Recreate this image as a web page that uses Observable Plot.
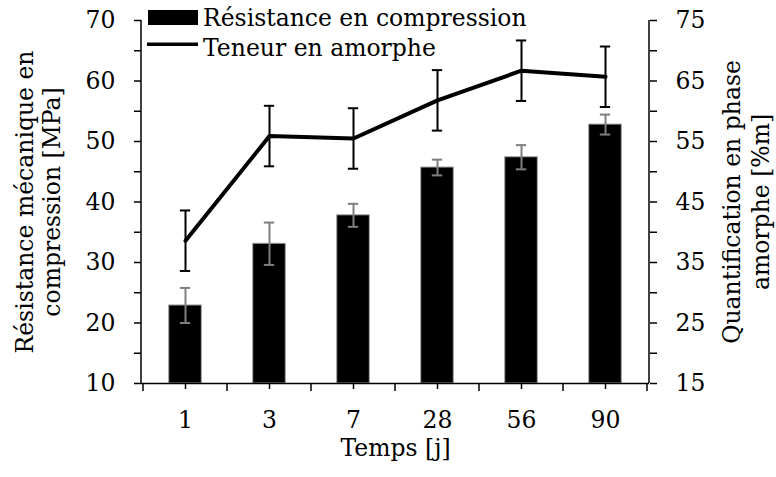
<!DOCTYPE html>
<html><head><meta charset="utf-8">
<script src="https://cdn.jsdelivr.net/npm/d3@7"></script>
<script src="https://cdn.jsdelivr.net/npm/@observablehq/plot@0.6"></script>
<style>
html,body{margin:0;padding:0;background:#fff;}
#chart svg{display:block;}
</style></head><body><div id="chart"></div>
<script>
const categories = ["1","3","7","28","56","90"];
const strength = [22.9, 33.1, 37.8, 45.7, 47.4, 52.8];
const strengthErr = [2.9, 3.5, 1.9, 1.3, 2.0, 1.65];
const amorphous = [38.6, 55.9, 55.5, 61.8, 66.7, 65.7];
const amorphousErr = [5, 5, 5, 5, 5, 5];
const leftTicks = [10, 20, 30, 40, 50, 60, 70];
const rightTicks = [15, 25, 35, 45, 55, 65, 75];
const seriesNames = ["Résistance en compression", "Teneur en amorphe"];
const xTitle = "Temps [j]";
const leftTitle = "Résistance mécanique en\ncompression [MPa]";
const rightTitle = "Quantification en phase\namorphe [%m]";

const W = 776, H = 477, mL = 141, mR = 127, mT = 20, mB = 94;
const FONT = "'DejaVu Serif', serif", FS = 23.5;
const offset = rightTicks[0] - leftTicks[0];
const bw = (W - mL - mR) / categories.length;
const barW = 33.3, capW = 11;
const barInset = (bw - barW) / 2, capInset = (bw - capW) / 2;
const half = (leftTicks[1] - leftTicks[0]) / 2;
const minorTicks = d3.range(leftTicks[0], leftTicks[leftTicks.length - 1] + 0.001, half);

const data = categories.map((c, i) => ({
  c, s: strength[i], sLo: strength[i] - strengthErr[i], sHi: strength[i] + strengthErr[i],
  a: amorphous[i] - offset, aLo: amorphous[i] - amorphousErr[i] - offset, aHi: amorphous[i] + amorphousErr[i] - offset
}));

const chart = Plot.plot({
  width: W, height: H, marginLeft: mL, marginRight: mR, marginTop: mT, marginBottom: mB,
  style: {fontFamily: FONT, fontSize: FS + "px", color: "black", background: "white", overflow: "visible"},
  x: {type: "band", domain: categories, padding: 0, label: null},
  y: {domain: [leftTicks[0], leftTicks[leftTicks.length - 1]], label: null},
  marks: [
    Plot.barY(data, {x: "c", y1: leftTicks[0], y2: "s", fill: "black", stroke: "#a6a6a6", strokeWidth: 1, insetLeft: barInset, insetRight: barInset}),
    Plot.ruleX(data, {x: "c", y1: "sLo", y2: "sHi", stroke: "#7f7f7f", strokeWidth: 2}),
    Plot.tickY(data, {x: "c", y: "sLo", stroke: "#7f7f7f", strokeWidth: 2, insetLeft: capInset, insetRight: capInset}),
    Plot.tickY(data, {x: "c", y: "sHi", stroke: "#7f7f7f", strokeWidth: 2, insetLeft: capInset, insetRight: capInset}),
    Plot.line(data, {x: "c", y: "a", stroke: "black", strokeWidth: 4, strokeLinejoin: "miter"}),
    Plot.ruleX(data, {x: "c", y1: "aLo", y2: "aHi", stroke: "black", strokeWidth: 2}),
    Plot.tickY(data, {x: "c", y: "aLo", stroke: "black", strokeWidth: 2, insetLeft: capInset, insetRight: capInset}),
    Plot.tickY(data, {x: "c", y: "aHi", stroke: "black", strokeWidth: 2, insetLeft: capInset, insetRight: capInset}),
    Plot.ruleY([leftTicks[0]], {stroke: "black", strokeWidth: 1.5}),
    Plot.axisY(minorTicks, {anchor: "left", tickSize: 7, tickPadding: 19, strokeWidth: 1.5, label: null,
      tickFormat: d => leftTicks.includes(d) ? String(d) : ""}),
    Plot.axisY(minorTicks, {anchor: "right", tickSize: 7, tickPadding: 19, strokeWidth: 1.5, label: null,
      tickFormat: d => rightTicks.includes(d + offset) ? String(d + offset) : ""}),
    Plot.axisX({anchor: "bottom", tickSize: 6, tickPadding: 21.5, strokeWidth: 1.5, label: null}),
    Plot.text([xTitle], {frameAnchor: "bottom", dy: 72, textAnchor: "middle", lineAnchor: "bottom"}),
    Plot.text([leftTitle], {frameAnchor: "left", dx: -103.5, rotate: -90, textAnchor: "middle", lineAnchor: "middle", lineHeight: 1.15}),
    Plot.text([rightTitle], {frameAnchor: "right", dx: 96, rotate: -90, textAnchor: "middle", lineAnchor: "middle", lineHeight: 1.2})
  ]
});

const svg = d3.select(chart);
const xs = chart.scale("x"), ys = chart.scale("y");
const yTop = ys.apply(leftTicks[leftTicks.length - 1]), yBot = ys.apply(leftTicks[0]);
const xL = xs.range[0], xR = xs.range[1];
// axis lines
svg.append("line").attr("x1", xL).attr("x2", xL).attr("y1", yTop).attr("y2", yBot).attr("stroke", "black").attr("stroke-width", 1.5);
svg.append("line").attr("x1", xR).attr("x2", xR).attr("y1", yTop).attr("y2", yBot).attr("stroke", "black").attr("stroke-width", 1.5);
// category boundary ticks
const edges = categories.map(c => xs.apply(c)).concat([xs.apply(categories[categories.length - 1]) + xs.bandwidth]);
edges.forEach(e => svg.append("line").attr("x1", e).attr("x2", e).attr("y1", yBot).attr("y2", yBot + 8).attr("stroke", "black").attr("stroke-width", 1.5));
// legend
const lg = svg.append("g").attr("text-anchor", "start").attr("font-family", FONT).attr("font-size", FS);
lg.append("rect").attr("x", 148).attr("y", 10).attr("width", 50).attr("height", 15).attr("fill", "black");
lg.append("text").attr("x", 203).attr("y", 25.5).text(seriesNames[0]).attr("fill", "black");
lg.append("line").attr("x1", 147).attr("x2", 198).attr("y1", 44.3).attr("y2", 44.3).attr("stroke", "black").attr("stroke-width", 3.5);
lg.append("text").attr("x", 203).attr("y", 55.5).text(seriesNames[1]).attr("fill", "black");

document.getElementById("chart").appendChild(chart);
</script>
</body></html>
